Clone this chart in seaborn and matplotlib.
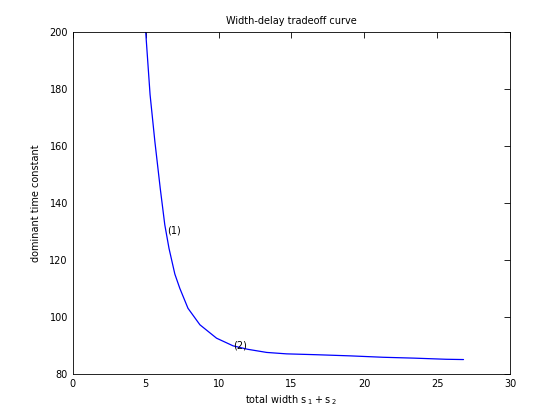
import matplotlib
matplotlib.use("Agg")
import matplotlib.pyplot as plt
import seaborn as sns
import pandas as pd

# curve values
total_width = [5.0, 5.3, 5.63, 6.0, 6.31, 6.6, 7.0, 7.34, 7.9, 8.72, 9.86, 11.0,
               12.0, 13.3, 14.66, 16.7, 19.0, 21.3, 23.4, 25.6, 26.8]
time_const = [200.0, 178.0, 161.5, 145.0, 132.3, 124.0, 115.0, 110.0, 103.0, 97.2,
              92.5, 89.8, 88.6, 87.5, 87.0, 86.7, 86.3, 85.8, 85.5, 85.1, 85.0]
point_labels = ["(1)", "(2)"]
point_x = [6.45, 11.0]
point_y = [130.3, 90.0]

df = pd.DataFrame({"w": total_width, "t": time_const})

sns.set_theme(style="white")
plt.rcParams["font.family"] = ["DejaVu Sans"]
plt.rcParams["mathtext.default"] = "regular"
plt.rcParams["text.color"] = "black"
plt.rcParams["axes.labelcolor"] = "black"

fig = plt.figure(figsize=(5.6, 4.2), dpi=100)
ax = fig.add_axes([0.13, 0.11, 0.781, 0.814])
sns.lineplot(data=df, x="w", y="t", color="#0000ff", linewidth=0.9, ax=ax, sort=False)

for lab, px, py in zip(point_labels, point_x, point_y):
    ax.text(px, py, lab, fontsize=7, ha="left", va="center", color="black")

ax.set_xlim(0, 30)
ax.set_ylim(80, 200)
ax.set_xticks(range(0, 31, 5))
ax.set_yticks(range(80, 201, 20))
ax.tick_params(direction="in", length=4, width=0.6, labelsize=7,
               top=True, right=True, colors="black")
for s in ax.spines.values():
    s.set_color("black")
    s.set_linewidth(0.6)
ax.set_title("Width-delay tradeoff curve", fontsize=7, pad=6, color="black")
ax.set_xlabel("total width $s_{\\ 1} + s_{\\ 2}$", fontsize=7, labelpad=3, color="black")
ax.set_ylabel("dominant time constant", fontsize=7, labelpad=6, color="black")

fig.savefig("out.png", dpi=100, facecolor="white")
